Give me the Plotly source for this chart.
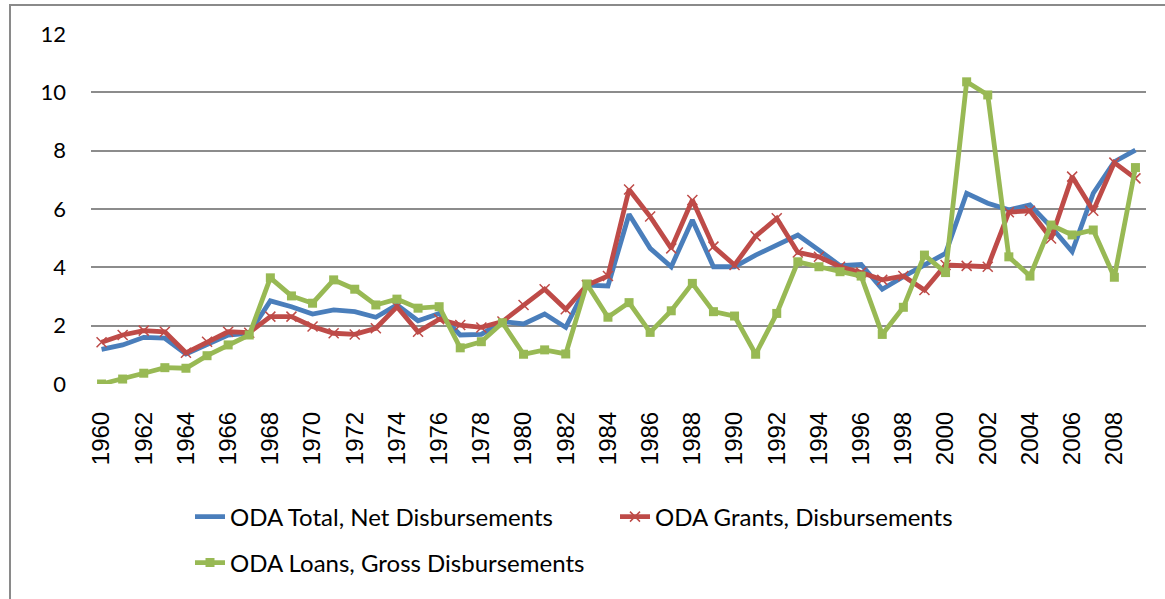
import plotly.graph_objects as go

years = list(range(1960, 2010))

oda_total = [1.19, 1.34, 1.60, 1.57, 1.03, 1.34, 1.68, 1.74, 2.85, 2.65,
             2.40, 2.54, 2.48, 2.29, 2.71, 2.17, 2.42, 1.68, 1.70, 2.14,
             2.06, 2.40, 1.94, 3.39, 3.36, 5.82, 4.65, 4.02, 5.62, 4.02,
             4.02, 4.42, 4.77, 5.11, 4.59, 4.06, 4.10, 3.25, 3.68, 4.08,
             4.48, 6.54, 6.20, 5.97, 6.14, 5.39, 4.54, 6.54, 7.62, 8.02]

oda_grants = [1.43, 1.68, 1.83, 1.79, 1.07, 1.45, 1.79, 1.76, 2.31, 2.31,
              1.97, 1.74, 1.70, 1.91, 2.65, 1.79, 2.22, 2.02, 1.94, 2.14,
              2.71, 3.25, 2.56, 3.39, 3.70, 6.67, 5.74, 4.65, 6.31, 4.71,
              4.08, 5.07, 5.68, 4.51, 4.36, 4.02, 3.82, 3.57, 3.70, 3.22,
              4.08, 4.05, 4.02, 5.89, 5.94, 4.99, 7.11, 5.94, 7.59, 7.05]

oda_loans = [0.00, 0.17, 0.37, 0.56, 0.54, 0.97, 1.34, 1.68, 3.64, 3.02,
             2.77, 3.57, 3.25, 2.71, 2.91, 2.60, 2.65, 1.24, 1.45, 2.10,
             1.02, 1.17, 1.03, 3.43, 2.29, 2.79, 1.77, 2.51, 3.45, 2.48,
             2.33, 1.02, 2.42, 4.19, 4.02, 3.85, 3.70, 1.70, 2.63, 4.42,
             3.82, 10.36, 9.91, 4.36, 3.70, 5.45, 5.11, 5.28, 3.66, 7.42]

y_ticks = [0, 2, 4, 6, 8, 10, 12]

names = ["ODA Total, Net Disbursements", "ODA Grants, Disbursements",
         "ODA Loans, Gross Disbursements"]

BLUE = "#4A7EBB"
RED = "#BE4B48"
GREEN = "#98B954"

# plot area in pixels
W, H = 1165, 599
L, R, T, B = 91, 19, 34, 215
PW = W - L - R
PH = H - T - B


def px_x(px):
    return (px - L) / PW


def px_y(py):
    return (H - B - py) / PH


fig = go.Figure()
fig.add_trace(go.Scatter(
    x=years, y=oda_total, name=names[0], mode="lines",
    line=dict(color=BLUE, width=4.8), legend="legend"))
fig.add_trace(go.Scatter(
    x=years, y=oda_grants, name=names[1], mode="lines+markers",
    line=dict(color=RED, width=4.8),
    marker=dict(symbol="x-thin-open", size=10, color=RED,
                line=dict(color=RED, width=1.5)),
    legend="legend"))
fig.add_trace(go.Scatter(
    x=years, y=oda_loans, name=names[2], mode="lines+markers",
    line=dict(color=GREEN, width=4.8),
    marker=dict(symbol="square", size=9, color=GREEN),
    legend="legend2"))

legend_font = dict(family="Lato, Carlito, sans-serif", size=24, color="#000000")

fig.update_layout(
    width=W, height=H,
    margin=dict(l=L, r=R, t=T, b=B, pad=0),
    paper_bgcolor="white", plot_bgcolor="white",
    showlegend=True,
    legend=dict(orientation="h", x=px_x(190), xanchor="left",
                y=px_y(517), yanchor="middle", font=legend_font,
                entrywidth=380, entrywidthmode="pixels",
                bgcolor="rgba(0,0,0,0)", itemwidth=30),
    legend2=dict(orientation="h", x=px_x(190), xanchor="left",
                 y=px_y(563), yanchor="middle", font=legend_font,
                 bgcolor="rgba(0,0,0,0)", itemwidth=30),
    xaxis=dict(range=[1959.5, 2009.5], tickmode="linear", tick0=1960, dtick=2,
               tickangle=-90, showgrid=False, zeroline=False, showline=False,
               ticks="", ticklabelstandoff=22,
               tickfont=dict(family="Liberation Sans, Arial, sans-serif", size=24,
                             color="#000000")),
    yaxis=dict(range=[0, 12], tickvals=y_ticks, showgrid=True,
               gridcolor="#8C8C8C", gridwidth=2, zeroline=False, showline=False,
               ticks="", ticklabelstandoff=24,
               tickfont=dict(family="Lato, Carlito, sans-serif", size=22,
                             color="#000000")),
    shapes=[dict(type="path", xref="paper", yref="paper",
                 path=f"M {px_x(10)},{px_y(700)} L {px_x(10)},{px_y(5)} L {px_x(1180)},{px_y(5)}",
                 line=dict(color="#8A8A8A", width=2))],
)

fig.write_html("out.html")
